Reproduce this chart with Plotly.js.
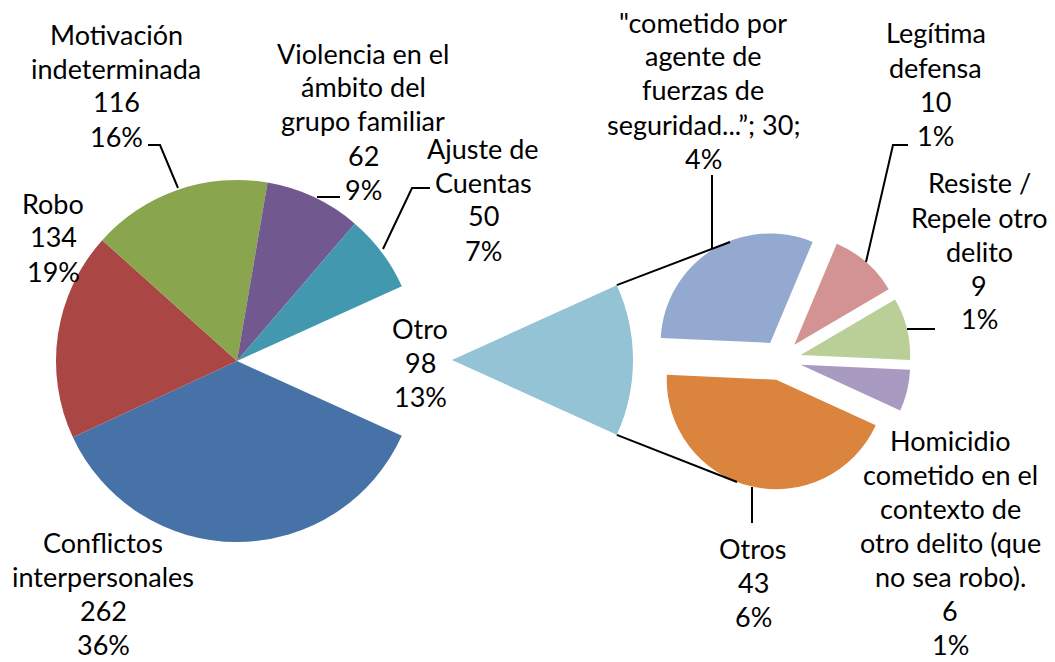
<!DOCTYPE html>
<html>
<head>
<meta charset="utf-8">
<script src="https://cdn.plot.ly/plotly-3.0.1.min.js"></script>
<style>html,body{margin:0;padding:0;background:#fff;}#chart{width:1055px;height:662px;}</style>
</head>
<body>
<div id="chart"></div>
<script>
// ---- data ----
const mainLabels = ['Conflictos<br>interpersonales', 'Robo', 'Motivación<br>indeterminada', 'Violencia en el<br>ámbito del<br>grupo familiar', 'Ajuste de<br>Cuentas', 'Otro'];
const mainValues = [262, 134, 116, 62, 50, 98];
const mainPercents = ['36%', '19%', '16%', '9%', '7%', '13%'];
const mainColors = ['#4672A7', '#AA4643', '#89A54E', '#71598F', '#4198AF', '#93C3D4'];

const subLabels = ['"cometido por<br>agente de<br>fuerzas de<br>seguridad...”', 'Legítima<br>defensa', 'Resiste /<br>Repele otro<br>delito', 'Homicidio<br>cometido en el<br>contexto de<br>otro delito (que<br>no sea robo).', 'Otros'];
const subValues = [30, 10, 9, 6, 43];
const subPercents = ['4%', '1%', '1%', '1%', '6%'];
const subColors = ['#93A9CF', '#D29392', '#BACE97', '#A99AC1', '#DB843D'];

// ---- layout helpers (pixel -> paper) ----
const W = 1055, H = 662;
const X = p => p / W, Y = p => 1 - p / H;
function dom(cx, cy, half) { return {x: [X(cx - half), X(cx + half)], y: [Y(cy + half), Y(cy - half)]}; }

const total = mainValues.reduce((a, b) => a + b, 0);
const otroIdx = mainValues.length - 1;
const otroVal = mainValues[otroIdx];
const halfOtroDeg = otroVal / total * 180;

// main pie geometry
const mC = [237, 361], mR = 181;
// exploded "Otro" slice geometry
const oC = [452, 360];
// secondary pie geometry
const sC = [781, 360], sR = 109.5, sPull = 0.185;

const mainTrace = {
  type: 'pie', values: mainValues, labels: mainLabels.map((l, i) => 'm' + i), sort: false,
  direction: 'clockwise', rotation: 90 + halfOtroDeg,
  marker: {colors: mainColors.map((c, i) => i === otroIdx ? 'rgba(0,0,0,0)' : c), line: {width: 0}},
  textinfo: 'none', hoverinfo: 'skip', showlegend: false,
  domain: dom(mC[0], mC[1], mR)
};
const otroTrace = {
  type: 'pie', values: [otroVal, total - otroVal], labels: ['o0', 'o1'], sort: false,
  direction: 'clockwise', rotation: 90 - halfOtroDeg,
  marker: {colors: [mainColors[otroIdx], 'rgba(0,0,0,0)'], line: {width: 0}},
  textinfo: 'none', hoverinfo: 'skip', showlegend: false,
  domain: dom(oC[0], oC[1], mR)
};
const subTrace = {
  type: 'pie', values: subValues, labels: subLabels.map((l, i) => 's' + i), sort: false,
  direction: 'clockwise', rotation: -87.4, pull: subValues.map(() => sPull),
  marker: {colors: subColors, line: {width: 0}},
  textinfo: 'none', hoverinfo: 'skip', showlegend: false,
  domain: dom(sC[0], sC[1], sR * (1 + sPull))
};

// label positions (pixel centres of each text block)
const mainPos = [[103, 593], [53, 237], [116, 85], [363, 121], [483, 199], [420, 362]];
const subPos = [[703, 90], [936, 84], [979, 251], [950, 542], [753, 582]];
const LINE = 34;

const font = {family: 'Lato, "Open Sans", sans-serif', size: 27, color: '#000'};
const annotations = [];
function addLabel(text, pos) {
  const lines = text.split('<br>');
  const n = lines.length;
  lines.forEach((t, k) => annotations.push({
    xref: 'paper', yref: 'paper', x: X(pos[0]), y: Y(pos[1] + (k - (n - 1) / 2) * LINE),
    xanchor: 'center', yanchor: 'middle', showarrow: false, font: font, text: t
  }));
}
mainLabels.forEach((l, i) => addLabel(l + '<br>' + mainValues[i] + '<br>' + mainPercents[i], mainPos[i]));
subLabels.forEach((l, i) => addLabel(
  i === 0 ? l + '; ' + subValues[i] + ';<br>' + subPercents[i] : l + '<br>' + subValues[i] + '<br>' + subPercents[i],
  subPos[i]));

// leader lines and connector lines
const lineStyle = {color: '#000', width: 2};
function path(pts) {
  return {type: 'path', xref: 'paper', yref: 'paper', line: lineStyle,
    path: 'M' + pts.map(p => X(p[0]) + ',' + Y(p[1])).join(' L')};
}
const rad = Math.PI / 180;
const otroTipA = [oC[0] + mR * Math.cos(halfOtroDeg * rad), oC[1] - mR * Math.sin(halfOtroDeg * rad)];
const otroTipB = [oC[0] + mR * Math.cos(halfOtroDeg * rad), oC[1] + mR * Math.sin(halfOtroDeg * rad)];
const shapes = [
  path([[148, 145], [160, 145], [178, 188]]),
  path([[317, 197], [340, 197]]),
  path([[430, 188], [412, 188], [383, 249]]),
  path([otroTipA, [730, 242]]),
  path([otroTipB, [737, 482]]),
  path([[712, 175], [712, 248]]),
  path([[908, 145], [893, 145], [866, 262]]),
  path([[907, 329], [935, 329]]),
  path([[752, 487], [752, 523]])
];

Plotly.newPlot('chart', [mainTrace, otroTrace, subTrace], {
  width: W, height: H, margin: {l: 0, r: 0, t: 0, b: 0},
  paper_bgcolor: '#fff', plot_bgcolor: '#fff', showlegend: false,
  annotations: annotations, shapes: shapes
}, {staticPlot: true});
</script>
</body>
</html>
